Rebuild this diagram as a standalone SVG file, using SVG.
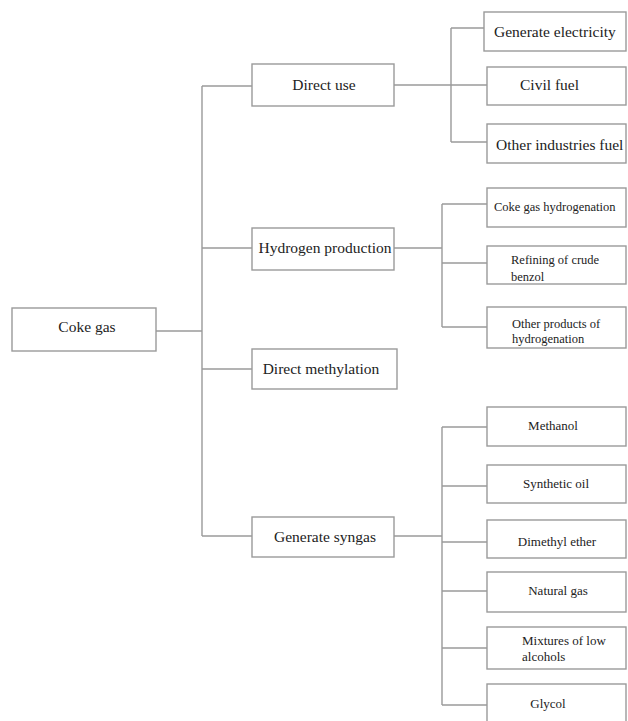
<svg xmlns="http://www.w3.org/2000/svg" width="628" height="721" viewBox="0 0 628 721">
<style>
.box{fill:#ffffff;stroke:#9a9a9a;stroke-width:1.4}
.ln{fill:none;stroke:#9a9a9a;stroke-width:1.4}
.t{font-family:"Liberation Serif","DejaVu Serif",serif;fill:#222;font-size:15.5px}
.m{text-anchor:middle}
.s{font-size:12.5px}
.s13{font-size:13px}
</style>
<rect width="628" height="721" fill="#ffffff"/>
<g id="connectors">
<path class="ln" d="M156,331H202M202,86V536M202,86H252M202,248H252M202,369H252M202,536H252"/>
<path class="ln" d="M394,85H487M451,28V142M451,28H484M451,142H487"/>
<path class="ln" d="M394,248H442M442,204V327M442,204H487M442,263H487M442,327H487"/>
<path class="ln" d="M394,536H442M442,427V705M442,427H487M442,486H487M442,542H487M442,591H487M442,648H487M442,705H487"/>
</g>
<g id="coke-gas"><rect class="box" x="12" y="308" width="144" height="43"/><text class="t m" x="87" y="332">Coke gas</text></g>
<g id="direct-use"><rect class="box" x="252" y="64" width="142" height="42"/><text class="t m" x="324" y="90">Direct use</text></g>
<g id="hydrogen-production"><rect class="box" x="252" y="228" width="142" height="42"/><text class="t m" x="325" y="253">Hydrogen production</text></g>
<g id="direct-methylation"><rect class="box" x="252" y="349" width="145" height="40"/><text class="t m" x="321" y="374">Direct methylation</text></g>
<g id="generate-syngas"><rect class="box" x="252" y="517" width="142" height="40"/><text class="t m" x="325" y="542">Generate syngas</text></g>
<g id="generate-electricity"><rect class="box" x="484" y="12" width="142" height="39"/><text class="t" x="494" y="37" font-size="15">Generate electricity</text></g>
<g id="civil-fuel"><rect class="box" x="487" y="67" width="139" height="38"/><text class="t" x="520" y="90" font-size="15">Civil fuel</text></g>
<g id="other-industries-fuel"><rect class="box" x="487" y="124" width="139" height="39"/><text class="t" x="496" y="150" font-size="15">Other industries fuel</text></g>
<g id="coke-gas-hydrogenation"><rect class="box" x="487" y="188" width="139" height="39"/><text class="t s" x="494" y="211">Coke gas hydrogenation</text></g>
<g id="refining-crude-benzol"><rect class="box" x="487" y="246" width="139" height="38"/><text class="t s" x="511" y="264">Refining of crude</text><text class="t s" x="511" y="281">benzol</text></g>
<g id="other-products"><rect class="box" x="487" y="307" width="139" height="41"/><text class="t s" x="512" y="328">Other products of</text><text class="t s" x="512" y="343">hydrogenation</text></g>
<g id="methanol"><rect class="box" x="487" y="407" width="139" height="39"/><text class="t s13 m" x="553" y="430">Methanol</text></g>
<g id="synthetic-oil"><rect class="box" x="487" y="465" width="139" height="38"/><text class="t s13 m" x="556" y="488">Synthetic oil</text></g>
<g id="dimethyl-ether"><rect class="box" x="487" y="520" width="139" height="38"/><text class="t s13 m" x="557" y="546">Dimethyl ether</text></g>
<g id="natural-gas"><rect class="box" x="487" y="572" width="139" height="40"/><text class="t s13 m" x="558" y="595">Natural gas</text></g>
<g id="mixtures-low-alcohols"><rect class="box" x="487" y="627" width="139" height="42"/><text class="t s13" x="522" y="645">Mixtures of low</text><text class="t s13" x="522" y="661">alcohols</text></g>
<g id="glycol"><rect class="box" x="487" y="684" width="139" height="45"/><text class="t s13 m" x="548" y="708">Glycol</text></g>
</svg>
